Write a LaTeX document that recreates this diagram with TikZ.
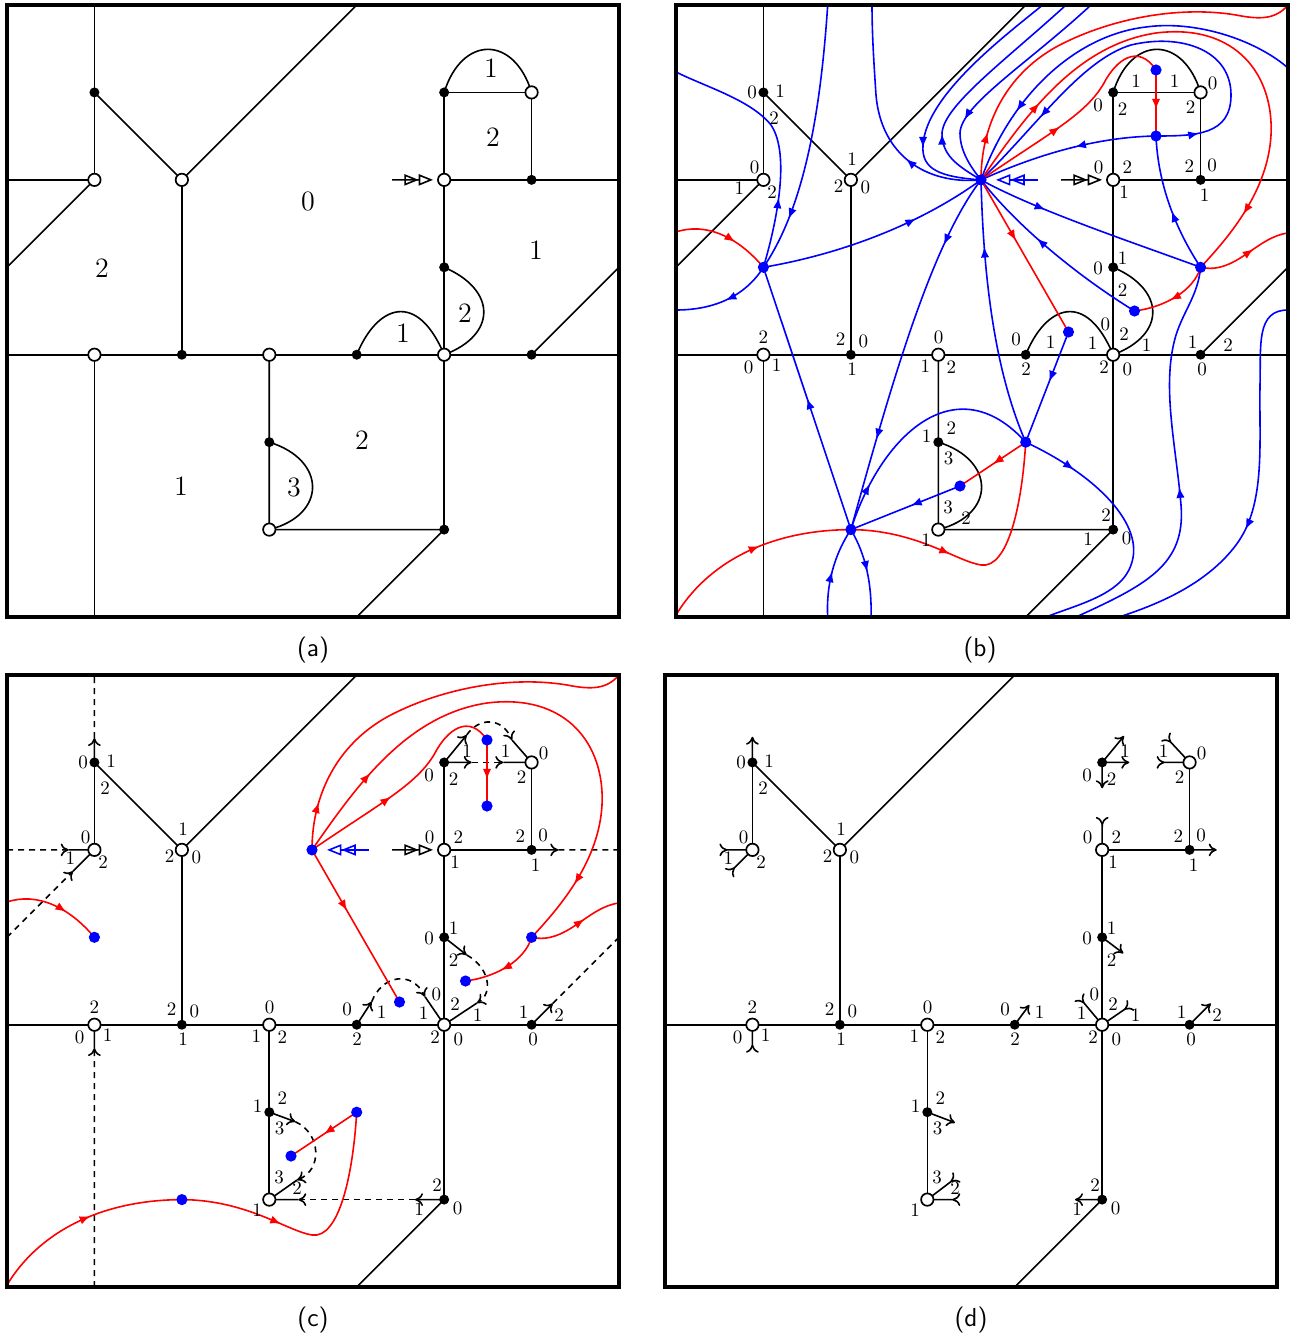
\RequirePackage{fix-cm}
\documentclass[tikz,border=0pt]{standalone}
\usetikzlibrary{arrows.meta,decorations.markings}
\tikzset{
  gline/.style={line width=0.8pt},
  dline/.style={line width=0.8pt,dash pattern=on 3pt off 2.5pt},
  bv/.style={circle,fill=black,inner sep=0pt,minimum size=5pt},
  wv/.style={circle,draw=black,fill=white,line width=0.85pt,inner sep=0pt,minimum size=6.2pt},
  fv/.style={circle,fill=blue,inner sep=0pt,minimum size=5.6pt},
  lab/.style={font=\fontsize{9.5}{11}\selectfont,inner sep=0pt},
  reg/.style={font=\fontsize{14}{16}\selectfont,inner sep=0pt},
  captxt/.style={font=\sffamily\fontsize{13}{15}\selectfont,inner sep=0pt},
  pframe/.style={line width=2pt},
  bcurve/.style={blue,line width=0.8pt},
  rcurve/.style={red,line width=0.8pt},
  fl/.style={postaction={decorate,decoration={markings,mark=at position #1 with {\arrow{Latex[length=5.4pt,width=4.2pt]}}}}},
  fll/.style 2 args={postaction={decorate,decoration={markings,mark=at position #1 with {\arrow{Latex[length=5.4pt,width=4.2pt]}},mark=at position #2 with {\arrow{Latex[length=5.4pt,width=4.2pt]}}}}},
  outarr/.style={-{Computer Modern Rightarrow[length=4pt,width=6.4pt]}},
  inarr/.style={-{Computer Modern Rightarrow[length=4pt,width=6.4pt,reversed]}},
  dblarr/.style={-{Triangle[open,length=7.2pt,width=5.6pt]Triangle[open,length=7.2pt,width=5.6pt]}},
}
\newcommand\mygrid{\foreach \i in {0,...,7}{\foreach \j in {0,...,7}{\coordinate (g\i\j) at ({\i*87.43},{\j*87.43});}}}
\newcommand\myfull{%
  \draw[gline] (g10) -- (g11) -- (g12) -- (g02);
  \draw[gline] (g12) -- (g03);
  \draw[gline] (g11) -- (g22) -- (g40);
  \draw[gline] (g22) -- (g24);
  \draw[gline] (g04) -- (g74);
  \draw[gline] (g14) -- (g17);
  \draw[gline] (g34) -- (g36) -- (g56) -- (g47);
  \draw[gline] (g35) .. controls (320,455) and (320,510) .. (g36);
  \draw[gline] (g51) -- (g56);
  \draw[gline] (g51) -- (g61) -- (g62);
  \draw[gline] (g51) .. controls (455,30) and (507,30) .. (g61);
  \draw[gline] (g52) -- (g72);
  \draw[gline] (g53) .. controls (490,285) and (490,330) .. (g54);
  \draw[gline] (g44) .. controls (370,300) and (410,285) .. (g54);
  \draw[gline] (g64) -- (g73);
}
\newcommand\myverts{%
  \node[bv] (v11) at (g11) {};
  \node[wv] (v12) at (g12) {};
  \node[wv] (v22) at (g22) {};
  \node[bv] (v51) at (g51) {};
  \node[wv] (v61) at (g61) {};
  \node[wv] (v52) at (g52) {};
  \node[bv] (v62) at (g62) {};
  \node[bv] (v53) at (g53) {};
  \node[wv] (v14) at (g14) {};
  \node[bv] (v24) at (g24) {};
  \node[wv] (v34) at (g34) {};
  \node[bv] (v44) at (g44) {};
  \node[wv] (v54) at (g54) {};
  \node[bv] (v64) at (g64) {};
  \node[bv] (v35) at (g35) {};
  \node[wv] (v36) at (g36) {};
  \node[bv] (v56) at (g56) {};
}
\newcommand\mylabels{%
\foreach \x/\y/\t [count=\k] in {76/87/0,104/86/1,98/113/2,
78.7/162.7/0,63.3/182.7/1,96/186.7/2,
176/154/1,162.7/180.7/2,189.3/182.7/0,
422/100.7/0,446.7/104/2,460/76/1,
498.7/76/1,536.7/78.7/0,514.7/101.7/2,
422.7/162.7/0,451.3/161.7/2,448/186.7/1,
513.3/160.7/2,536/160/0,528.7/190/1,
422/263.3/0,446.7/253.3/1,446.7/285/2,
87.3/332.3/2,72.7/362.3/0,100.7/360.3/1,
164.7/333.7/2,187.3/336.3/0,176/364.3/1,
262.7/332.3/0,249.3/361/1,275.3/362.3/2,
250.7/431/1,275.3/423/2,272.7/453/3,
272/502.3/3,290/513.3/2,250/535/1,
340/334.3/0,374.7/337/1,350/363.7/2,
429.3/319.7/0,416.7/338.3/1,448/329/2,470.7/340.3/1,428/361.7/2,451.3/364.3/0,
516.7/337/1,552/340.3/2,526/364.3/0,
430/510/2,412/534.3/1,450.7/533.3/0}
{\node[lab] (hl\k) at (\x,\y) {\t};}}
\newcommand\mybpts{%
 \coordinate (cH) at (305,174.9);
 \coordinate (cT1) at (480,65);
 \coordinate (cT2) at (480,131);
 \coordinate (cR1) at (524.6,262.3);
 \coordinate (cL1) at (87.4,262.3);
 \coordinate (cM1) at (458.5,306);
 \coordinate (cM2) at (392.5,327);
 \coordinate (cS1) at (349.7,437.2);
 \coordinate (cS2) at (284,481);
 \coordinate (cS3) at (174.9,524.6);
}
\newcommand\mydots{\foreach \n in {H,T1,T2,R1,L1,M1,M2,S1,S2,S3}{\node[fv] (d\n) at (c\n) {};}}
\newcommand\mydblk{\coordinate (dk) at (385,174.9); \draw[gline,dblarr,shorten >=2pt] (dk) -- (v52);}
\newcommand\mydblb{\coordinate (db) at (362,174.9); \draw[bcurve,dblarr,shorten >=4.5pt] (db) -- (dH);}
\newcommand\myred{%
 \draw[rcurve,fl=0.62] (0,227) .. controls (30,217) and (62,232) .. (cL1);
 \draw[rcurve,fl=0.12] (cH) .. controls (305,120) and (330,70) .. (380,42) .. controls (430,15) and (500,0) .. (560,10) .. controls (585,15) and (600,14) .. (612,0);
 \draw[rcurve,fll={0.17}{0.88}] (cH) .. controls (350,110) and (400,40) .. (480,28) .. controls (560,18) and (598,70) .. (595,130) .. controls (592,185) and (555,230) .. (cR1);
 \draw[rcurve,fl=0.42] (cH) .. controls (370,130) and (410,110) .. (428,78) .. controls (440,55) and (462,38) .. (cT1);
 \draw[rcurve,fl=0.6] (cT1) -- (cT2);
 \draw[rcurve,fl=0.4] (cH) -- (cM2);
 \draw[rcurve,fl=0.55] (cR1) .. controls (518,285) and (490,302) .. (cM1);
 \draw[rcurve,fl=0.6] (cR1) .. controls (560,270) and (580,232) .. (612,228);
 \draw[rcurve,fl=0.5] (cS1) -- (cS2);
 \draw[rcurve,fll={0.23}{0.64}] (0,610) .. controls (30,560) and (90,525) .. (cS3) .. controls (240,525) and (280,556) .. (305,560) .. controls (332,564) and (346,500) .. (cS1);
}
\newcommand\myblue{%
 \draw[bcurve,fl=0.68] (cL1) .. controls (160,250) and (240,222) .. (cH);
 \draw[bcurve,fl=0.28] (cL1) .. controls (100,220) and (115,150) .. (95,120) .. controls (75,95) and (30,82) .. (0,67);
 \draw[bcurve,fl=0.8] (151.7,0) .. controls (145,100) and (130,200) .. (cL1);
 \draw[bcurve,fl=0.5] (cL1) .. controls (70,290) and (40,305) .. (0,305);
 \draw[bcurve,fl=0.5] (cS3) -- (cL1);
 \draw[bcurve,fl=0.33] (cH) .. controls (250,180) and (205,150) .. (200,90) .. controls (198,60) and (196,30) .. (196,0);
 \draw[bcurve,fl=0.72] (366.7,0) .. controls (330,30) and (250,90) .. (247,140) .. controls (245,165) and (265,172) .. (cH);
 \draw[bcurve,fl=0.26] (cH) .. controls (280,160) and (266,150) .. (266,128) .. controls (268,100) and (330,55) .. (390,0);
 \draw[bcurve,fl=0.72] (415,0) .. controls (350,60) and (285,100) .. (284,128) .. controls (284,145) and (293,160) .. (cH);
 \draw[bcurve,fl=0.8] (612,63) .. controls (580,35) and (520,15) .. (470,22) .. controls (400,30) and (335,90) .. (cH);
 \draw[bcurve,fll={0.1}{0.8}] (cT2) .. controls (520,131) and (555,130) .. (555,90) .. controls (555,45) and (505,28) .. (455,40) .. controls (405,55) and (360,122) .. (cH);
 \draw[bcurve,fl=0.45] (cT2) .. controls (420,132) and (360,150) .. (cH);
 \draw[bcurve,fl=0.3] (cH) .. controls (360,205) and (450,235) .. (cR1);
 \draw[bcurve,fl=0.6] (cM1) .. controls (400,270) and (340,220) .. (cH);
 \draw[bcurve,fl=0.45] (cR1) .. controls (500,225) and (482,180) .. (cT2);
 \draw[bcurve,fl=0.75] (cS1) .. controls (325,380) and (308,300) .. (cH);
 \draw[bcurve,fll={0.2}{0.75}] (cH) .. controls (255,240) and (215,380) .. (cS3);
 \draw[bcurve,fl=0.2] (cS3) .. controls (205,430) and (280,360) .. (cS1);
 \draw[bcurve,fl=0.45] (cS2) -- (cS3);
 \draw[bcurve,fl=0.45] (cM2) -- (cS1);
 \draw[bcurve,fl=0.2] (cS1) .. controls (420,470) and (470,520) .. (455,560) .. controls (445,590) and (400,600) .. (370,612);
 \draw[bcurve,fl=0.45] (400,612) .. controls (470,580) and (510,560) .. (505,500) .. controls (500,440) and (485,380) .. (500,330) .. controls (508,305) and (522,290) .. (cR1);
 \draw[bcurve,fl=0.6] (612,305) .. controls (580,305) and (585,340) .. (584,380) .. controls (583,440) and (590,500) .. (560,540) .. controls (530,580) and (480,600) .. (443,612);
 \draw[bcurve,fl=0.5] (151.7,612) .. controls (150,580) and (158,550) .. (cS3);
 \draw[bcurve,fl=0.5] (cS3) .. controls (190,550) and (196,580) .. (195,612);
}
\newcommand\mycgraph{%
  \draw[gline] (g11) -- (g12);
  \draw[gline] (g11) -- (g22) -- (g40);
  \draw[gline] (g22) -- (g24);
  \draw[gline] (g04) -- (g74);
  \draw[gline] (g34) -- (g36);
  \draw[gline] (g51) -- (g56);
  \draw[gline] (g61) -- (g62);
  \draw[gline] (g52) -- (g62);
  \draw[gline] (g56) -- (g47);
  \coordinate (s1) at (87.4,63); \draw[gline,outarr] (g11) -- (s1); \draw[dline] (s1) -- (g10);
  \coordinate (s2) at (61.7,174.9); \draw[dline,outarr] (g02) -- (s2); \draw[gline] (s2) -- (g12);
  \coordinate (s3) at (66,196.3); \draw[dline,outarr] (g03) -- (s3); \draw[gline] (s3) -- (g12);
  \coordinate (s4) at (87.4,373); \draw[dline,outarr] (g17) -- (s4); \draw[gline] (s4) -- (g14);
  \coordinate (s5) at (464.7,87.4); \coordinate (s6) at (496.3,87.4);
  \draw[gline,outarr] (g51) -- (s5); \draw[dline,outarr] (s5) -- (s6); \draw[gline] (s6) -- (g61);
  \coordinate (s7) at (459.7,60); \coordinate (s8) at (505,65);
  \draw[gline,outarr] (g51) -- (s7); \draw[dline,outarr] (s7) .. controls (472,42) and (495,42) .. (s8); \draw[gline] (s8) -- (g61);
  \coordinate (s9) at (551.3,174.9); \draw[gline,outarr] (g62) -- (s9); \draw[dline] (s9) -- (g72);
  \coordinate (s10) at (459.7,280); \coordinate (s11) at (470,328);
  \draw[gline,outarr] (g53) -- (s10); \draw[dline,outarr] (s10) .. controls (482,292) and (487,318) .. (s11); \draw[gline] (s11) -- (g54);
  \coordinate (s12) at (364.7,326.7); \coordinate (s13) at (418,321.7);
  \draw[gline,outarr] (g44) -- (s12); \draw[dline,outarr] (s12) .. controls (375,300) and (405,295) .. (s13); \draw[gline] (s13) -- (g54);
  \coordinate (s14) at (545.8,328.5); \draw[gline,outarr] (g64) -- (s14); \draw[dline] (s14) -- (g73);
  \coordinate (s15) at (288.3,446.7); \coordinate (s16) at (290,505);
  \draw[gline,outarr] (g35) -- (s15); \draw[dline,outarr] (s15) .. controls (314,458) and (316,495) .. (s16); \draw[gline] (s16) -- (g36);
  \coordinate (s17) at (408,524.6); \coordinate (s18) at (291.3,524.6);
  \draw[gline,outarr] (g56) -- (s17); \draw[dline,outarr] (s17) -- (s18); \draw[gline] (s18) -- (g36);
}
\newcommand\mydgraph{%
 \draw[gline] (g11) -- (g12);
 \draw[gline] (g11) -- (g22) -- (g40);
 \draw[gline] (g22) -- (g24);
 \draw[gline] (g04) -- (g74);
 \draw[gline] (g34) -- (g36);
 \draw[gline] (g52) -- (g56);
 \draw[gline] (g52) -- (g62);
 \draw[gline] (g61) -- (g62);
 \draw[gline] (g56) -- (g47);
 \foreach \a/\b/\p/\q [count=\k] in {1/1/87.4/61.7, 5/1/459/61, 5/1/464.3/87.4, 5/1/437.2/113.3, 6/2/551.7/174.9, 5/3/458.3/278.3, 4/4/364.3/330, 6/4/545.8/328.5, 3/5/290/447.7, 5/6/410/524.6}
   {\coordinate (o\k) at (\p,\q); \draw[gline,outarr] (g\a\b) -- (o\k);}
 \foreach \a/\b/\p/\q [count=\k] in {1/2/54.4/174.9, 1/2/64.1/198.2, 1/4/87.4/377.7, 6/1/491.6/87.4, 6/1/500.5/61.5, 5/2/437.2/141.9, 5/4/414/322, 5/4/466/330, 3/6/292/502, 3/6/295.3/524.6}
   {\coordinate (i\k) at (\p,\q); \draw[gline,inarr] (g\a\b) -- (i\k);}
}
\begin{document}
\begin{tikzpicture}[x=0.5pt,y=-0.5pt]
\useasboundingbox (0,0) rectangle (1290,1338);
% ---------- (a)
\begin{scope}[shift={(7,5)},name prefix=a-]
 \mygrid
 \myfull
 \myverts
 \mydblk
 \node[reg] (r1) at (301,196) {0};
 \node[reg] (r2) at (95,263) {2};
 \node[reg] (r3) at (529,245) {1};
 \node[reg] (r4) at (486,132) {2};
 \node[reg] (r5) at (484,63) {1};
 \node[reg] (r6) at (458,308) {2};
 \node[reg] (r7) at (396,328) {1};
 \node[reg] (r8) at (355,435) {2};
 \node[reg] (r9) at (174,481) {1};
 \node[reg] (r10) at (287,482) {3};
 \draw[pframe] (0,0) rectangle (612,612);
\end{scope}
% ---------- (b)
\begin{scope}[shift={(676,5)},name prefix=b-]
 \mygrid
 \mybpts
 \myfull
 \begin{scope}
  \clip (0,0) rectangle (612,612);
  \myblue
  \myred
 \end{scope}
 \myverts
 \mydots
 \mydblk
 \mydblb
 \mylabels
 \draw[pframe] (0,0) rectangle (612,612);
\end{scope}
% ---------- (c)
\begin{scope}[shift={(7,675)},name prefix=c-]
 \mygrid
 \mybpts
 \mycgraph
 \begin{scope}
  \clip (0,0) rectangle (612,612);
  \myred
 \end{scope}
 \myverts
 \mydots
 \mydblk
 \mydblb
 \mylabels
 \draw[pframe] (0,0) rectangle (612,612);
\end{scope}
% ---------- (d)
\begin{scope}[shift={(665,675)},name prefix=d-]
 \mygrid
 \mydgraph
 \myverts
 \mylabels
 \draw[pframe] (0,0) rectangle (612,612);
\end{scope}
\node[captxt] (capa) at (313,650) {(a)};
\node[captxt] (capb) at (980,650) {(b)};
\node[captxt] (capc) at (313,1320) {(c)};
\node[captxt] (capd) at (971,1320) {(d)};
\end{tikzpicture}
\end{document}
